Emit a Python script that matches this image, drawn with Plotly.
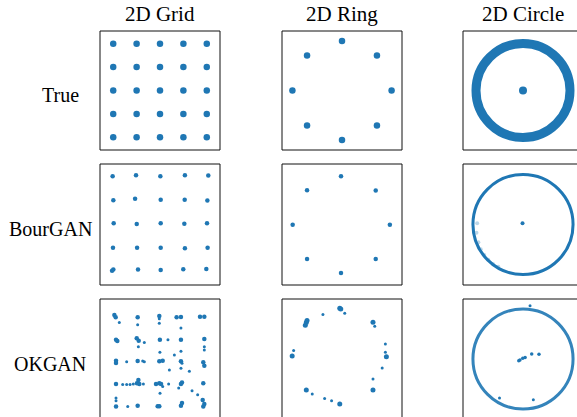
import plotly.graph_objects as go

# ---------------- data ----------------
col_titles = ["2D Grid", "2D Ring", "2D Circle"]
row_labels = ["True", "BourGAN", "OKGAN"]

# 2D Grid — true modes
true_grid_x = [-4, -2, 0, 2, 4, -4, -2, 0, 2, 4, -4, -2, 0, 2, 4, -4, -2, 0, 2, 4, -4, -2, 0, 2, 4]
true_grid_y = [4, 4, 4, 4, 4, 2, 2, 2, 2, 2, 0, 0, 0, 0, 0, -2, -2, -2, -2, -2, -4, -4, -4, -4, -4]

# 2D Grid — BourGAN samples (cluster locations)
bour_grid_x = [-4.05, -2.05, 0.03, 2.13, 4.13, -3.99, -2.13, 0.06, 2.11, 4.05,
               -3.96, -1.99, 0.06, 2.08, 4.02, -4.02, -1.96, 0.06, 2.13, 4.07,
               -3.99, -4.1, -1.88, 0.06, 1.99, 3.96]
bour_grid_y = [4.13, 4.22, 4.13, 4.22, 4.19, 2.08, 2.2, 2.11, 2.11, 2.05,
               0.1, 0.04, 0.1, 0.07, 0.1, -1.99, -1.99, -1.99, -2.02, -1.99,
               -3.85, -3.95, -3.85, -3.88, -3.82, -3.8]

# 2D Grid — OKGAN samples: dense clusters and scattered single samples
ok_grid_blob_x = [-3.90, -3.79, 1.42, 1.79, 3.42, 3.79, -1.91, -0.06,
                  -3.76, -3.65, -1.99, -1.82, -0.01, 1.79, 3.79,
                  -3.76, -3.76, -1.91, -0.06, 0.23, 1.79, 3.70, 3.79,
                  -3.76, -1.97, -1.85, -1.77, -0.34, -0.06, 0.09, 1.79, 1.88, 3.70,
                  -3.76, -1.91, -0.2, -0.06, 1.79, 1.88, 3.65, 3.79, 3.70]
ok_grid_blob_y = [3.76, 3.56, 3.56, 3.59, 3.62, 3.62, 3.56, 3.68,
                  1.65, 1.54, 1.77, 1.57, 1.65, 1.65, 1.71,
                  -0.14, -0.34, -0.17, -0.20, -0.14, -0.20, -0.28, -0.57,
                  -2.14, -2.08, -1.79, -2.14, -2.14, -2.08, -2.14, -2.14, -2.0, -2.08,
                  -4.07, -3.99, -4.05, -4.05, -3.99, -3.76, -3.50, -3.85, -4.07]
ok_grid_small_x = [-3.48, -1.91, -0.06, -0.06, 1.79,
                   -1.34, -1.85, 0.68, 3.79, 3.79,
                   -2.85, -1.48, -1.34, -0.01, 1.23, 1.79, 1.88, 0.80, 1.79, 2.51,
                   -3.19, -2.85, -2.56, -2.28, -1.42, 0.23, 0.74, 1.60, 2.74, 3.22,
                   -3.76, -3.76, -2.76, 0.0]
ok_grid_small_y = [3.13, 2.93, 3.45, 3.05, 2.65,
                   1.42, 1.05, 1.65, 1.05, 0.77,
                   -0.23, -0.17, -0.23, 0.57, 0.34, 0.66, -0.37, -0.94, -0.80, -1.05,
                   -2.19, -2.19, -2.19, -2.14, -2.14, -2.36, -2.14, -2.48, -2.71, -3.05,
                   -3.33, -3.56, -4.07, -2.93]

# 2D Ring — true modes
true_ring_x = [2.0, 1.41, 0.0, -1.41, -2.0, -1.41, 0.0, 1.41]
true_ring_y = [0.0, 1.41, 2.0, 1.41, 0.0, -1.41, -2.0, -1.41]

# 2D Ring — BourGAN samples
bour_ring_x = [1.93, 1.36, -0.04, -1.41, -1.99, -1.41, -0.04, 1.36]
bour_ring_y = [-0.01, 1.37, 1.95, 1.38, -0.01, -1.39, -1.96, -1.39]

# 2D Ring — OKGAN samples
ok_ring_blob_x = [-0.09, -0.05, -1.41, -1.44, -1.48, 1.25, 1.79, -2.01, 1.25, -1.44, -0.09]
ok_ring_blob_y = [2.05, 2.02, 1.55, 1.47, 1.36, 1.48, 0.09, 0.12, -1.25, -1.25, -1.82]
ok_ring_small_x = [0.11, -0.77, 1.32, 1.75, 1.75, -1.95, 1.62, 1.25, -1.20, -0.70, -0.42]
ok_ring_small_y = [1.85, 1.79, 1.32, 0.61, 0.27, 0.34, -0.36, -0.81, -1.41, -1.59, -1.68]

# 2D Circle — ring radius and centre mode
true_circle_radius = [2.0]
true_center_x = [0.0]
true_center_y = [0.0]

bour_circle_radius = [2.13]
bour_center_x = [-0.02]
bour_center_y = [0.05]
# lighter spread of BourGAN samples inside the ring, lower-left / left side
bour_spread_x = [-1.95, -1.98, -1.90, -1.80, -1.65, -1.48, -1.28, -1.05]
bour_spread_y = [0.05, -0.35, -0.75, -1.05, -1.30, -1.50, -1.68, -1.80]

ok_circle_radius = [2.13]
ok_center_x = [-0.01, -0.13, 0.09, -0.18, 0.37, 0.68]
ok_center_y = [0.03, -0.04, 0.06, -0.07, 0.21, 0.20]
ok_stray_x = [-1.0, 0.44, 0.30]
ok_stray_y = [-1.66, -1.73, 2.27]

# ---------------- layout geometry ----------------
W, H = 577, 417
BLUE = "#1f77b4"
FONT = "Liberation Serif, Times New Roman, serif"

col_px = [(100, 220), (282, 402), (463, 583)]   # box left/right in px
row_px = [(31, 150), (164, 285), (299, 419)]    # box top/bottom in px
half_range = [5.13, 2.42, 2.553]                # half of axis range per column

fig = go.Figure()


def axis_id(r, c):
    return r * 3 + c + 1


for r in range(3):
    for c in range(3):
        k = axis_id(r, c)
        xl, xr = col_px[c]
        yt, yb = row_px[r]
        scale = (xr - xl) / (2 * half_range[c])   # px per unit
        cx = (xl + xr) / 2
        cy = (yt + yb) / 2
        xr_vis = min(xr, W)
        yb_vis = min(yb, H)
        xdom = [xl / W, xr_vis / W]
        ydom = [1 - yb_vis / H, 1 - yt / H]
        xrange = [(xl - cx) / scale, (xr_vis - cx) / scale]
        yrange = [(cy - yb_vis) / scale, (cy - yt) / scale]
        ax = dict(domain=xdom, range=xrange, showgrid=False, zeroline=False,
                  showticklabels=False, ticks="", showline=False, fixedrange=True)
        ay = dict(domain=ydom, range=yrange, showgrid=False, zeroline=False,
                  showticklabels=False, ticks="", showline=False, fixedrange=True)
        sx = "" if k == 1 else str(k)
        ax["anchor"] = "y" + sx
        ay["anchor"] = "x" + sx
        fig.layout["xaxis" + sx] = ax
        fig.layout["yaxis" + sx] = ay
        fig.add_shape(type="rect", xref="paper", yref="paper",
                      x0=xl / W, x1=xr / W, y0=1 - yb / H, y1=1 - yt / H,
                      line=dict(color="#111", width=1), fillcolor="rgba(0,0,0,0)",
                      layer="above")


def add_pts(r, c, xs, ys, size, opacity=1.0):
    k = axis_id(r, c)
    sx = "" if k == 1 else str(k)
    fig.add_trace(go.Scatter(x=xs, y=ys, mode="markers", xaxis="x" + sx, yaxis="y" + sx,
                             marker=dict(color=BLUE, size=size, opacity=opacity, line=dict(width=0)),
                             showlegend=False, hoverinfo="skip"))


def add_ring(r, c, radius, width, opacity=1.0):
    k = axis_id(r, c)
    sx = "" if k == 1 else str(k)
    fig.add_shape(type="circle", xref="x" + sx, yref="y" + sx,
                  x0=-radius, x1=radius, y0=-radius, y1=radius,
                  line=dict(color=BLUE, width=width), opacity=opacity)


# Grid column
add_pts(0, 0, true_grid_x, true_grid_y, 6.5)
add_pts(1, 0, bour_grid_x, bour_grid_y, 4.5)
add_pts(2, 0, ok_grid_blob_x, ok_grid_blob_y, 4.5)
add_pts(2, 0, ok_grid_small_x, ok_grid_small_y, 3)

# Ring column
add_pts(0, 1, true_ring_x, true_ring_y, 6.5)
add_pts(1, 1, bour_ring_x, bour_ring_y, 4.5)
add_pts(2, 1, ok_ring_blob_x, ok_ring_blob_y, 5)
add_pts(2, 1, ok_ring_small_x, ok_ring_small_y, 3)

# Circle column
add_ring(0, 2, true_circle_radius[0], 9)
add_pts(0, 2, true_center_x, true_center_y, 8)
add_ring(1, 2, bour_circle_radius[0], 3)
add_pts(1, 2, bour_spread_x, bour_spread_y, 4, opacity=0.3)
add_pts(1, 2, bour_center_x, bour_center_y, 4)
add_ring(2, 2, ok_circle_radius[0], 3, opacity=0.9)
add_pts(2, 2, ok_center_x, ok_center_y, 3.5)
add_pts(2, 2, ok_stray_x, ok_stray_y, 3)

# Titles and row labels
title_x = [160, 342, 523]
for t, x in zip(col_titles, title_x):
    fig.add_annotation(text=t, x=x / W, y=1 - 14 / H, xref="paper", yref="paper",
                       xanchor="center", yanchor="middle", showarrow=False,
                       font=dict(family=FONT, size=21, color="black"))
label_x = [60, 50, 50]
label_y = [95, 229, 364]
for t, x, y in zip(row_labels, label_x, label_y):
    fig.add_annotation(text=t, x=x / W, y=1 - y / H, xref="paper", yref="paper",
                       xanchor="center", yanchor="middle", showarrow=False,
                       font=dict(family=FONT, size=20, color="black"))

fig.update_layout(width=W, height=H, margin=dict(l=0, r=0, t=0, b=0),
                  paper_bgcolor="white", plot_bgcolor="white", showlegend=False)

fig.write_html("out.html", config={"displayModeBar": False, "staticPlot": True},
               post_script="document.body.style.margin='0';document.body.style.padding='0';")
